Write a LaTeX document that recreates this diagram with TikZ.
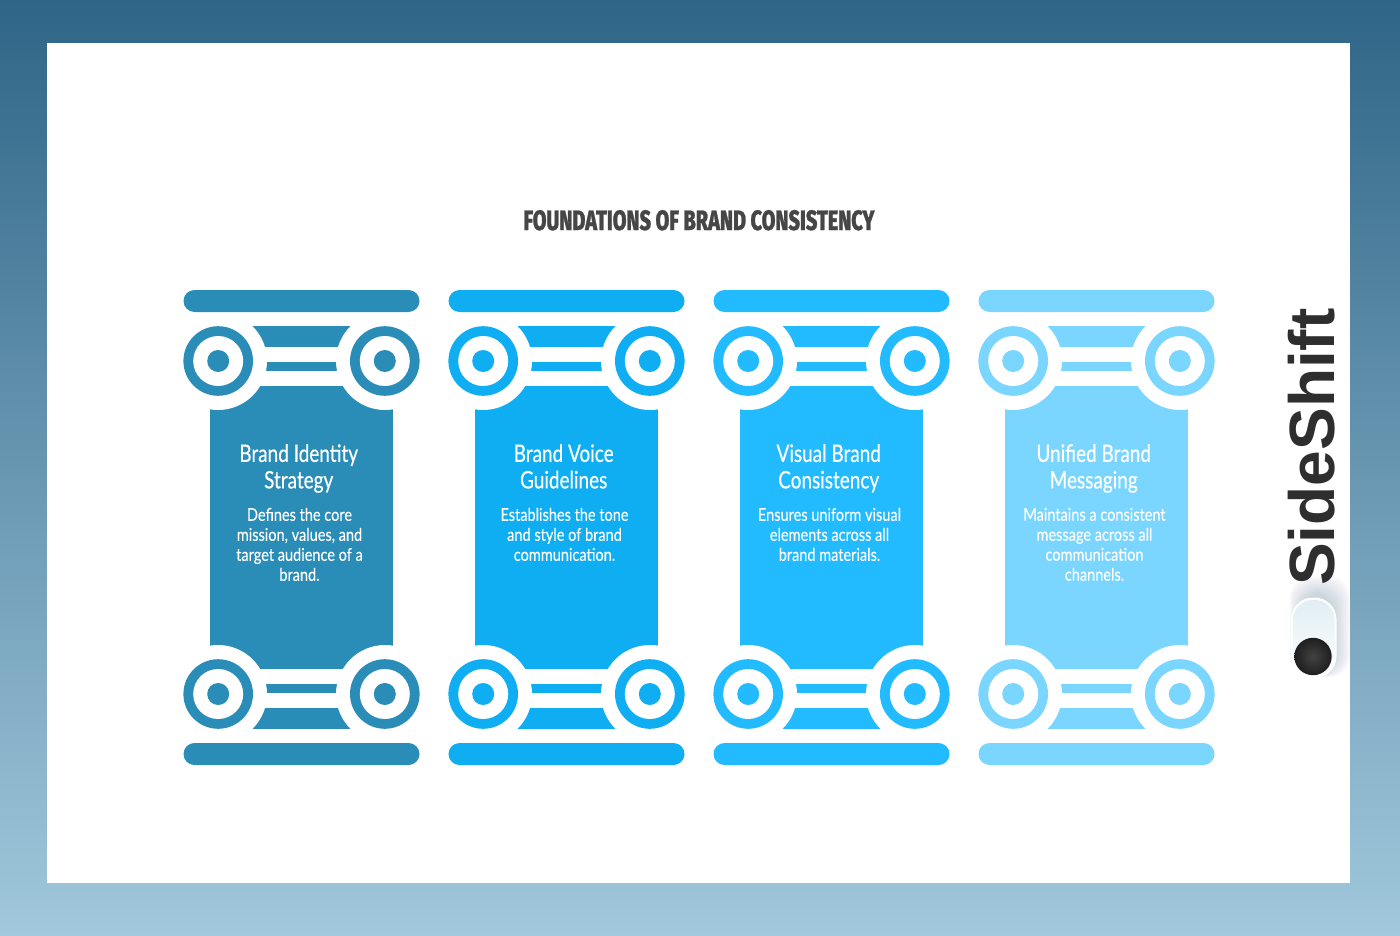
\documentclass[tikz,border=0pt]{standalone}
\usepackage{fontspec}
\newfontfamily\bodyf[FakeStretch=0.79,FakeBold=0.35]{Lato}
\newfontfamily\descf[FakeStretch=0.83,FakeBold=0.15]{Lato}
\newfontfamily\titlef[FakeStretch=0.71,FakeBold=0.9]{Fira Sans ExtraBold}
\newfontfamily\logof{Liberation Sans}
\definecolor{bgtop}{HTML}{2F6587}
\definecolor{bgbot}{HTML}{A1C8DC}
\definecolor{cola}{HTML}{2A8DB8}
\definecolor{colb}{HTML}{0FAEF2}
\definecolor{colc}{HTML}{22BBFF}
\definecolor{cold}{HTML}{7AD6FF}
\definecolor{ink}{HTML}{464646}
\definecolor{logoink}{HTML}{2E2E2E}
\tikzset{
  halo/.style={fill=white,draw=none},
  headtext/.style={text=white,align=center,anchor=north,font=\bodyf\fontsize{24}{26.5}\selectfont,inner sep=0pt},
  desctext/.style={text=white,align=center,anchor=north,font=\descf\fontsize{17.5}{20}\selectfont,inner sep=0pt},
}
\newcommand{\scroll}[2]{% centre y, colour
  \fill[#2] (218.2,#1) circle[radius=34.8];
  \fill[white] (218.2,#1) circle[radius=25];
  \fill[#2] (218.2,#1) circle[radius=11];
  \fill[#2] (384.8,#1) circle[radius=34.8];
  \fill[white] (384.8,#1) circle[radius=25];
  \fill[#2] (384.8,#1) circle[radius=11];
}
\newcommand{\pillar}[5]{% xshift, colour, name, title, text
  \begin{scope}[shift={(#1,0)}]
    \fill[#2] (210,386) rectangle (393,669);
    \fill[#2] (218,326) rectangle (385,347);
    \fill[#2] (218,362) rectangle (385,371);
    \fill[#2] (218,684) rectangle (385,693);
    \fill[#2] (218,708) rectangle (385,729);
    \fill[halo] (218,361) circle[radius=49];
    \fill[halo] (385,361) circle[radius=49];
    \fill[halo] (218,694) circle[radius=49];
    \fill[halo] (385,694) circle[radius=49];
    \scroll{361}{#2}
    \scroll{694}{#2}
    \fill[#2,rounded corners=11] (183.5,290) rectangle (419.5,312);
    \fill[#2,rounded corners=11] (183.5,743) rectangle (419.5,765);
    \node[headtext] (#3h) at (298.7,444) {#4};
    \node[desctext] (#3d) at (299.5,507.7) {#5};
  \end{scope}
}
\begin{document}
\begin{tikzpicture}[x=1pt,y=-1pt]
\useasboundingbox (0,0) rectangle (1400,936);
\shade[top color=bgtop,bottom color=bgbot] (0,0) rectangle (1400,936);
\fill[white] (47,43) rectangle (1350,883);
\node[text=ink,inner sep=0pt,anchor=base] (title) at (699,230) {\titlef\fontsize{28}{30}\selectfont FOUNDATIONS OF BRAND CONSISTENCY};
\pillar{0}{cola}{a}{Brand Identity\\Strategy}{Defines the core\\mission, values, and\\target audience of a\\brand.}
\pillar{265}{colb}{b}{Brand Voice\\Guidelines}{Establishes the tone\\and style of brand\\communication.}
\pillar{530}{colc}{c}{Visual Brand\\Consistency}{Ensures uniform visual\\elements across all\\brand materials.}
\pillar{795}{cold}{d}{Unified Brand\\Messaging}{Maintains a consistent\\message across all\\communication\\channels.}
% logo
\begin{scope}
  \clip (47,43) rectangle (1350,883);
  \foreach \g in {1,...,18}{
    \fill[bgtop!70!black,opacity=0.011,rounded corners=22] (1302-\g*0.7,594-\g) rectangle (1333+\g,672+\g*0.3);
  }
\end{scope}
\node[rotate=90,anchor=base west,inner sep=0pt,text=logoink] (logo) at (1334.5,586) {\logof\bfseries\fontsize{64}{64}\selectfont SideShift};
\fill[white,rounded corners=22] (1291,597.5) rectangle (1336.5,678);
\shade[top color=bgbot!32!white,bottom color=white,rounded corners=20] (1293,600) rectangle (1334.5,675.5);
\shade[inner color=black!74,outer color=black!88] (1313,656.5) circle[radius=18.7];
\end{tikzpicture}
\end{document}
